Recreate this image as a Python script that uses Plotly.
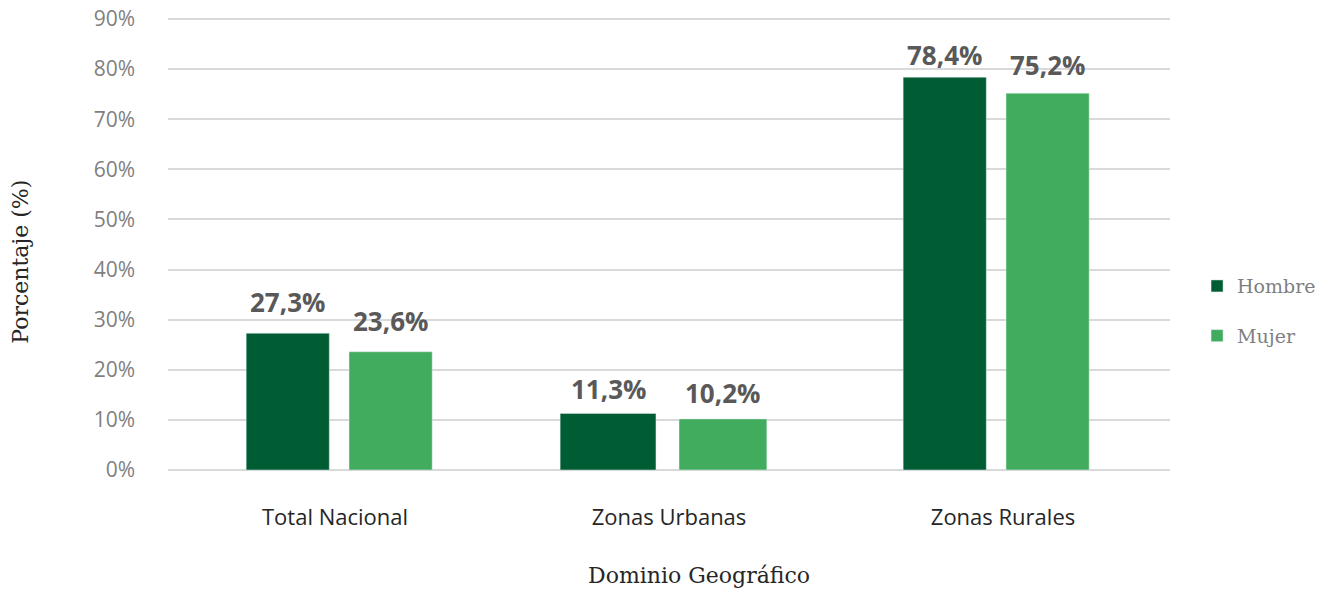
import plotly.graph_objects as go

# datos
dominios = ["Total Nacional", "Zonas Urbanas", "Zonas Rurales"]
hombre = [27.3, 11.3, 78.4]
mujer = [23.6, 10.2, 75.2]
y_ticks = [0, 10, 20, 30, 40, 50, 60, 70, 80, 90]

# geometria de barras (en unidades de categoria)
off_h = [-0.266, -0.326, -0.299]
w_h = [0.249, 0.287, 0.249]
off_m = [0.042, 0.030, 0.009]
w_m = [0.249, 0.263, 0.249]
# separacion de etiquetas sobre las barras (px)
shift_h = [11, 4, 2]
shift_m = [11, 6, 8]

c_hombre = "#005C33"
c_mujer = "#41AC5D"
sans = "Open Sans"
serif = "DejaVu Serif"

fig = go.Figure()
fig.add_trace(go.Bar(x=dominios, y=hombre, name="Hombre", marker_color=c_hombre,
                     offset=off_h, width=w_h, legendgroup="h"))
fig.add_trace(go.Bar(x=dominios, y=mujer, name="Mujer", marker_color=c_mujer,
                     offset=off_m, width=w_m, legendgroup="m"))

def fmt(v):
    return f"{v:.1f}".replace(".", ",") + "%"

annotations = []
for vals, offs, ws, sh in [(hombre, off_h, w_h, shift_h), (mujer, off_m, w_m, shift_m)]:
    for i, v in enumerate(vals):
        annotations.append(dict(
            x=i + offs[i] + ws[i] / 2, y=v, xref="x", yref="y",
            text=fmt(v), showarrow=False, yanchor="bottom", yshift=sh[i],
            font=dict(family=sans, size=26, color="#595959", weight="bold"),
        ))

annotations.append(dict(text="Porcentaje (%)", xref="paper", yref="paper",
                        x=-0.148, y=0.458, xanchor="center", yanchor="middle",
                        textangle=-90, showarrow=False,
                        font=dict(family=serif, size=22, color="#262626")))
annotations.append(dict(text="Dominio Geográfico", xref="paper", yref="paper",
                        x=0.53, y=-0.232, xanchor="center", yanchor="middle",
                        showarrow=False,
                        font=dict(family=serif, size=22, color="#262626")))

# la pagina tiene 8px de margen en el body
fig.update_layout(
    width=1319, height=581,
    margin=dict(l=160, r=157, t=8, b=119, autoexpand=False),
    plot_bgcolor="white", paper_bgcolor="white",
    showlegend=True,
    legend=dict(x=1.027, y=0.35, yanchor="middle", xanchor="left",
                tracegroupgap=22,
                font=dict(family=serif, size=19, color="#7F7F7F")),
    annotations=annotations,
    xaxis=dict(type="category", tickfont=dict(family=sans, size=22, color="#262626"),
               ticks="", showline=False, ticklabelstandoff=32, automargin=False),
    yaxis=dict(range=[0, 90.6], tickvals=y_ticks,
               ticktext=[f"{t}%" for t in y_ticks],
               tickfont=dict(family=sans, size=21, color="#7F7F7F"),
               showgrid=True, gridcolor="#D9D9D9", gridwidth=2,
               zeroline=True, zerolinecolor="#D9D9D9", zerolinewidth=2,
               ticklabelstandoff=32, ticklabeloverflow="allow", automargin=False),
)

fig.write_html("out.html")
